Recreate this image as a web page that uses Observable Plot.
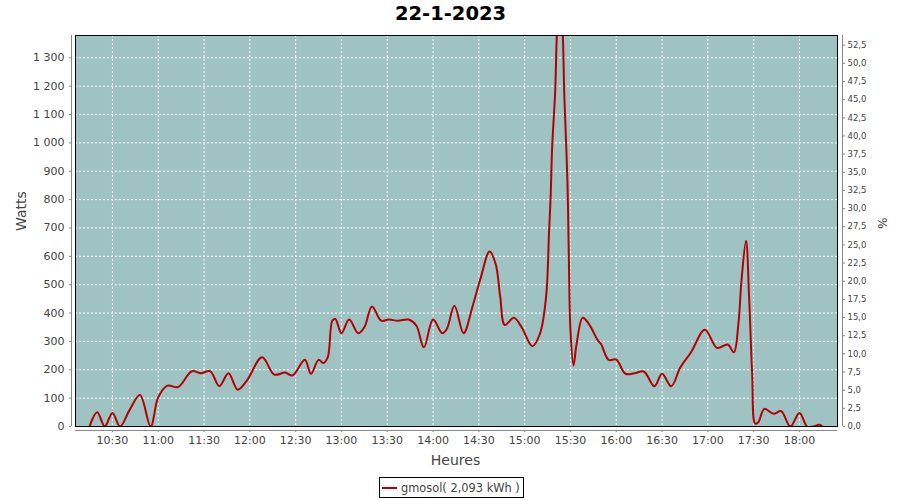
<!DOCTYPE html>
<html>
<head>
<meta charset="utf-8">
<script src="https://cdn.jsdelivr.net/npm/d3@7"></script>
<script src="https://cdn.jsdelivr.net/npm/@observablehq/plot@0.6"></script>
<style>
  body { margin: 0; background: #fff; }
  #wrap { position: relative; width: 900px; height: 500px; font-family: "DejaVu Sans", sans-serif; }
  #legend { position: absolute; left: 379px; top: 477px; width: 141px; height: 19px; border: 1px solid #000; background: #fff;
            display: flex; align-items: center; padding: 0 0 0 2px; font-size: 11.4px; color: #444; white-space: nowrap; box-sizing: content-box; }
  #legend .sw { display: inline-block; width: 15px; height: 2px; background: #b40000; margin-right: 4px; }
</style>
</head>
<body>
<div id="wrap"><div id="legend"><span class="sw"></span><span>gmosol( 2,093 kWh )</span></div></div>
<script>
const times = ["10:15","10:20","10:25","10:30","10:35","10:41","10:48","10:55","11:00","11:06","11:13","11:22","11:28","11:34","11:40","11:46","11:52","11:58","12:08","12:16","12:23","12:28","12:36","12:40","12:45","12:48","12:51","12:54","12:56","13:00","13:05","13:11","13:15","13:20","13:26","13:31","13:37","13:44","13:49","13:54","14:00","14:06","14:09","14:14","14:20","14:26","14:31","14:37","14:41","14:44","14:47","14:53","14:58","15:05","15:10","15:14","15:16","15:17","15:18","15:20","15:21","15:23","15:25","15:26","15:28","15:29","15:30","15:32","15:34","15:38","15:42","15:48","15:50","15:55","16:00","16:06","16:12","16:18","16:25","16:30","16:36","16:42","16:49","16:58","17:06","17:13","17:17","17:20","17:22","17:25","17:27","17:29","17:31","17:33","17:37","17:43","17:48","17:54","18:00","18:05","18:09","18:13","18:15"];
const watts = [0,50,0,48,0,56,111,0,103,144,139,195,188,195,142,188,130,162,244,183,190,180,235,186,235,224,244,373,379,329,377,329,350,423,373,377,373,377,356,279,377,329,344,426,329,426,520,617,573,456,358,383,350,283,327,456,691,808,984,1184,1372,1600,1378,1160,867,573,338,215,291,383,362,303,291,235,236,186,188,194,142,186,142,209,262,341,277,289,262,362,514,655,456,186,10,15,62,45,54,0,48,0,0,6,0];
const xTickLabels = ["10:30","11:00","11:30","12:00","12:30","13:00","13:30","14:00","14:30","15:00","15:30","16:00","16:30","17:00","17:30","18:00"];
const yTicks = [0,100,200,300,400,500,600,700,800,900,1000,1100,1200,1300];
const pctTicks = [0,2.5,5,7.5,10,12.5,15,17.5,20,22.5,25,27.5,30,32.5,35,37.5,40,42.5,45,47.5,50,52.5];

const toMin = s => { const [h, m] = s.split(":").map(Number); return h * 60 + m; };
const fmtMin = v => `${Math.floor(v / 60)}:${String(Math.round(v % 60)).padStart(2, "0")}`;
const data = times.map((t, i) => ({t: toMin(t), w: watts[i]}));
const xTicks = xTickLabels.map(toMin);
const xMin = 605.8, xMax = 1104.9;
const yMax = 1378.6;
const wPerPct = 25.61;
const fmtW = d => d >= 1000 ? `${Math.floor(d / 1000)} ${String(d % 1000).padStart(3, "0")}` : String(d);
const fmtPct = d => (d / wPerPct).toFixed(1).replace(".", ",");

const chart = Plot.plot({
  width: 900, height: 500,
  marginLeft: 75, marginRight: 63, marginTop: 35, marginBottom: 74,
  style: {fontFamily: "DejaVu Sans, sans-serif", fontSize: "11px", color: "#444", background: "transparent"},
  x: {domain: [xMin, xMax]},
  y: {domain: [0, yMax]},
  marks: [
    Plot.frame({fill: "#9ec3c2", stroke: null}),
    Plot.gridY(yTicks, {stroke: "white", strokeOpacity: 1, strokeDasharray: "2,2", strokeWidth: 1}),
    Plot.gridX(xTicks, {stroke: "white", strokeOpacity: 1, strokeDasharray: "2,2", strokeWidth: 1}),
    Plot.line(data, {x: "t", y: "w", curve: "catmull-rom", stroke: "#b40000", strokeWidth: 2, clip: true}),
    Plot.frame({stroke: "#000", strokeWidth: 1}),
    Plot.ruleX([xMin], {dx: -4, stroke: "#888"}),
    Plot.ruleX([xMax], {dx: 5, stroke: "#888"}),
    Plot.ruleY([0], {dy: 4, stroke: "#888"}),
    Plot.axisY(yTicks, {anchor: "left", tickSize: 2, dx: -4, tickPadding: 5, tickFormat: fmtW, label: null, stroke: "#888", fill: "#444", fontSize: 11}),
    Plot.axisY(pctTicks.map(p => p * wPerPct), {anchor: "right", tickSize: 2, dx: 5, tickPadding: 3, tickFormat: fmtPct, label: null, stroke: "#888", fill: "#444", fontSize: 8.5}),
    Plot.axisX(xTicks, {anchor: "bottom", tickSize: 2, dy: 4, tickPadding: 4, tickFormat: fmtMin, label: null, stroke: "#888", fill: "#444", fontSize: 11}),
    Plot.text(["Watts"], {frameAnchor: "left", dx: -54, rotate: -90, fontSize: 14, fill: "#444", lineAnchor: "middle"}),
    Plot.text(["Heures"], {frameAnchor: "bottom", dy: 34, dx: -1, fontSize: 14, fill: "#444", lineAnchor: "middle"}),
    Plot.text(["%"], {frameAnchor: "right", dx: 44, dy: -2, rotate: 90, fontSize: 12, fill: "#444", lineAnchor: "middle"}),
    Plot.text(["22-1-2023"], {frameAnchor: "top", dy: -21.5, dx: -6, fontSize: 19.5, fontWeight: "bold", fill: "#000", lineAnchor: "middle"})
  ]
});
document.getElementById("wrap").prepend(chart);
chart.style.position = "absolute";
chart.style.left = "0";
chart.style.top = "0";
</script>
</body>
</html>
